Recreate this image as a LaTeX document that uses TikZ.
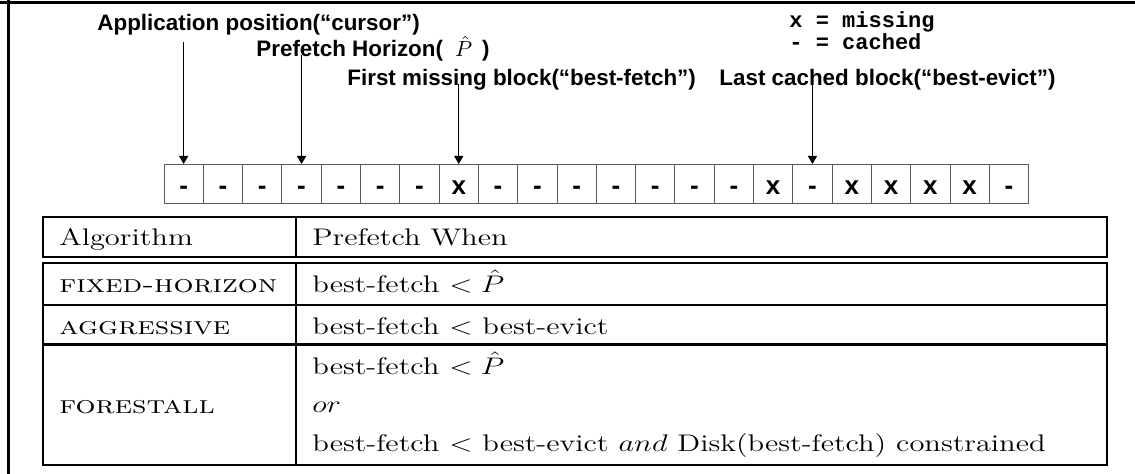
\documentclass[tikz,border=0pt]{standalone}
\usepackage{fontspec}
\usepackage{graphicx}
\usetikzlibrary{arrows.meta}
\newfontfamily\labelfont{Liberation Sans}
\newfontfamily\legendfont{Liberation Mono}
% table text is set a little wider than its natural width
\newcommand\cmwide[1]{\scalebox{1.27}[1]{#1}}
\newcommand\algname[1]{{\fontsize{12.4}{14}\selectfont\textsc{#1}}}

\begin{document}
\begin{tikzpicture}[x=0.5pt,y=-0.5pt,
  lbl/.style={anchor=base west, inner sep=0pt, font=\labelfont\bfseries\fontsize{11.2}{13}\selectfont},
  legend/.style={anchor=base west, inner sep=0pt, font=\legendfont\bfseries\fontsize{11}{13}\selectfont},
  cell/.style={draw=black!65, line width=0.5pt, minimum width=19.65pt, minimum height=19.5pt,
    inner sep=0pt, anchor=north, text height=10.5pt, text depth=0pt,
    font=\labelfont\bfseries\fontsize{13}{15}\selectfont},
  ptr/.style={-{Triangle[width=4.5pt,length=4pt]}, line width=0.6pt},
  rule/.style={line width=1pt},
  tab/.style={anchor=base west, inner sep=0pt, font=\fontsize{12}{14}\selectfont}]

\useasboundingbox (0,0) rectangle (1135,474);

% frame
\draw[line width=1.5pt] (0,2.5) -- (1135,2.5);
\draw[line width=1.5pt] (8.5,0) -- (8.5,474);

% block sequence
\foreach \s [count=\i from 0] in {-,-,-,-,-,-,-,x,-,-,-,-,-,-,-,x,-,x,x,x,x,-}{
  \node[cell] (c\i) at ({183.65+39.3*\i},164) {\s};
}

% legend
\node[legend] (lgx) at (789,28) {x = missing};
\node[legend] (lgd) at (789,50) {- = cached};

% pointer labels
\node[lbl] (lcur) at (97,31) {Application position(“cursor”)};
\node[lbl] (lhor) at (256,57) {Prefetch Horizon(\hspace{6pt}{\mdseries$\hat{P}$}\hspace{5pt})};
\node[lbl] (lfet) at (347,86) {First missing block(“best-fetch”)};
\node[lbl] (lev) at (719,86) {Last cached block(“best-evict”)};

% pointers
\path (c0.north) ++(0,-122) coordinate (pcur);
\path (c3.north) ++(0,-109) coordinate (phor);
\path (c7.north) ++(0,-80) coordinate (pfet);
\path (c16.north) ++(0,-80) coordinate (pev);
\draw[ptr] (pcur) -- (c0.north);
\draw[ptr] (phor) -- (c3.north);
\draw[ptr] (pfet) -- (c7.north);
\draw[ptr] (pev) -- (c16.north);

% table rules
\draw[rule] (43,217) rectangle (1107,257);
\draw[rule] (43,263) rectangle (1107,465);
\draw[rule] (296,217) -- (296,257);
\draw[rule] (296,263) -- (296,465);
\draw[rule] (43,305) -- (1107,305);
\draw[line width=1.5pt] (43,345) -- (1107,345);

% table text
\node[tab] (hAlg) at (59,245.5) {\cmwide{Algorithm}};
\node[tab] (hWhen) at (312,245.5) {\cmwide{Prefetch When}};
\node[tab] (aFix) at (59,293) {\cmwide{\algname{fixed-horizon}}};
\node[tab] (wFix) at (312,293) {\cmwide{best-fetch $<\hat{P}$}};
\node[tab] (aAgg) at (59,335) {\cmwide{\algname{aggressive}}};
\node[tab] (wAgg) at (312,335) {\cmwide{best-fetch $<$ best-evict}};
\node[tab] (aFor) at (59,414) {\cmwide{\algname{forestall}}};
\node[tab] (wFor1) at (312,375) {\cmwide{best-fetch $<\hat{P}$}};
\node[tab] (wFor2) at (312,413) {\cmwide{$or$}};
\node[tab] (wFor3) at (312,452) {\cmwide{best-fetch $<$ best-evict $and$ Disk(best-fetch) constrained}};
\end{tikzpicture}
\end{document}
